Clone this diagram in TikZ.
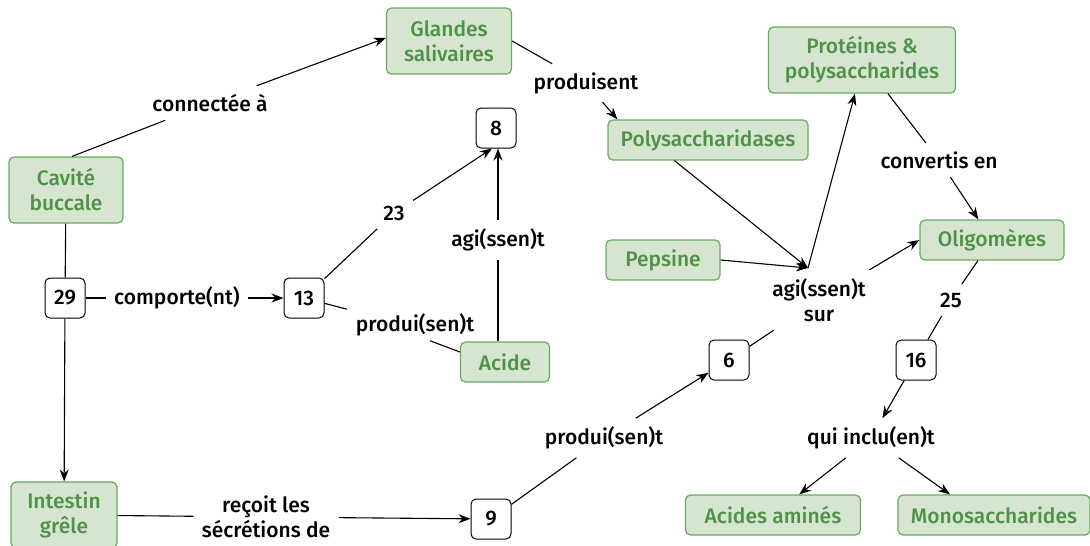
\documentclass[tikz,border=0pt]{standalone}
\usepackage{fontspec}
\setmainfont{Fira Sans Medium}
\usetikzlibrary{arrows.meta}
\definecolor{boxfill}{HTML}{D5E5D0}
\definecolor{boxline}{HTML}{6BA862}
\definecolor{boxtext}{HTML}{4F9146}
\tikzset{
  concept/.style={draw=boxline,fill=boxfill,text=boxtext,rounded corners=5pt,line width=1.2pt,align=center,minimum height=40pt,inner sep=2pt},
  numbox/.style={draw,rounded corners=5pt,line width=1pt,minimum width=40pt,minimum height=40pt,inner sep=2pt},
  link/.style={align=center,inner sep=8pt},
  arr/.style={-{Stealth[length=12pt,width=9pt]}}
}
\begin{document}
\begin{tikzpicture}[x=1pt,y=-1pt,line width=1.1pt,font=\fontsize{21}{25}\selectfont]
                    \useasboundingbox (0,0) rectangle (1090,546);
                    
                    \node[concept,minimum width=125pt,minimum height=66pt] (glandes) at (449,41) {Glandes\\salivaires};
                    \node[concept,minimum width=114pt,minimum height=66pt] (cavite) at (66,190) {Cavité\\buccale};
                    \node[concept,minimum width=106pt,minimum height=66pt] (intestin) at (64,515) {Intestin\\grêle};
                    \node[concept,minimum width=89pt] (acide) at (505,362) {Acide};
                    \node[concept,minimum width=200pt] (polyase) at (708,140) {Polysaccharidases};
                    \node[concept,minimum width=187pt,minimum height=66pt] (proteines) at (862,60) {Protéines \&\\polysaccharides};
                    \node[concept,minimum width=114pt] (pepsine) at (663,260) {Pepsine};
                    \node[concept,minimum width=144pt] (oligo) at (992,240) {Oligomères};
                    \node[concept,minimum width=175pt] (amines) at (773,515) {Acides aminés};
                    \node[concept,minimum width=192pt] (mono) at (994,515) {Monosaccharides};
                    
                    \node[numbox] (n29) at (65,298) {29};
                    \node[numbox] (n13) at (304,298) {13};
                    \node[numbox] (n8) at (496,128) {8};
                    \node[numbox] (n6) at (729,360) {6};
                    \node[numbox] (n16) at (916,360) {16};
                    \node[numbox] (n9) at (491,519) {9};
                    
                    \node[link] (lconn) at (210,103) {connectée à};
                    \node[link] (lprod) at (586,83) {produisent};
                    \node[link] (l23) at (394,213) {23};
                    \node[link] (lagi) at (498,240) {agi(ssen)t};
                    \node[link] (lcomp) at (177,298) {comporte(nt)};
                    \node[link,inner sep=4pt] (lprodA) at (415,325) {produi(sen)t};
                    \node[link] (lconv) at (939,160) {convertis en};
                    \node[link] (lagisur) at (819,300) {agi(ssen)t\\sur};
                    \node[link] (l25) at (951,300) {25};
                    \node[link] (lprodB) at (604,438) {produi(sen)t};
                    \node[link] (lincl) at (871,438) {qui inclu(en)t};
                    \node[link] (lrecoit) at (266,517) {reçoit les\\sécrétions de};
                    \coordinate (agitop) at (808,268);
                    
                    \draw ([xshift=6pt]cavite.north) -- (lconn);
                    \draw[arr] (lconn) -- ([yshift=3pt]glandes.west);
                    
                    \draw (glandes.east) -- (lprod);
                    \draw[arr] (lprod) -- ([xshift=10pt]polyase.north west);
                    
                    \draw (cavite) -- (n29);
                    \draw[arr] (n29) -- (intestin);
                    \draw (n29) -- (lcomp);
                    \draw[arr] (lcomp) -- (n13);
                    
                    \draw (n13) -- ([xshift=-68pt]lprodA.north);
                    \draw (n13) -- (l23);
                    \draw[arr] (l23) -- ([xshift=-4pt]n8.south);
                    \draw ([xshift=15pt]lprodA.south) -- ([yshift=10pt]acide.west);
                    \draw (lagi) -- (lagi |- acide.north);
                    \draw[arr] (lagi) -- (lagi |- n8.south);
                    
                    \draw[arr] (polyase.south west) ++(67pt,0) -- (agitop);
                    \draw[arr] (pepsine.east) -- (agitop);
                    \draw[arr] (agitop) -- ([xshift=-7pt]proteines.south);
                    \draw[arr] (lagisur) -- (oligo.west);
                    \draw (n6) -- (lagisur);
                    
                    \draw (intestin) -- (lrecoit);
                    \draw[arr] (lrecoit) -- (n9);
                    \draw (n9) -- (lprodB);
                    \draw[arr] (lprodB) -- (n6);
                    
                    \draw (proteines) -- (lconv);
                    \draw[arr] (lconv) -- (oligo);
                    \draw (oligo) -- (l25);
                    \draw (l25) -- (n16);
                    \draw[arr] (n16) -- (lincl);
                    \draw[arr] (lincl) -- (amines);
                    \draw[arr] (lincl) -- ([xshift=-44pt]mono.north);
                    \end{tikzpicture}
\end{document}
